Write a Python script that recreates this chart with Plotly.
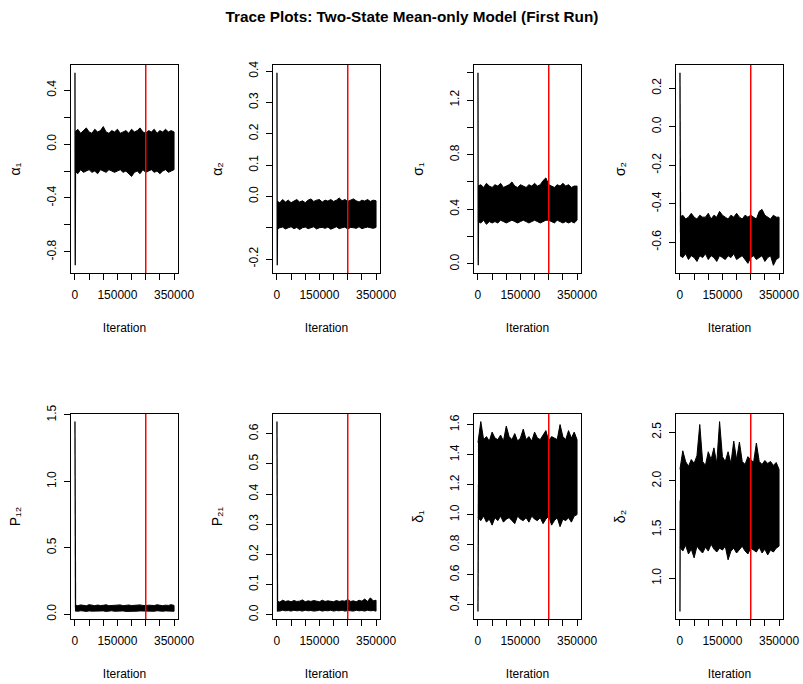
import plotly.graph_objects as go

# ---------------------------------------------------------------------------
# MCMC trace summaries (350,000 iterations per parameter)
# Each chain: a short burn-in path from the start value, followed by the
# stationary band described by its upper / lower envelope every 10,000 iters.
# ---------------------------------------------------------------------------
ITER = list(range(0, 350001, 10000))
BURN_ITER = [0, 1000, 2000]
RED_LINE_ITER = 250000

PARAM_LABELS = ["α₁", "α₂", "σ₁", "σ₂", "P₁₂", "P₂₁", "δ₁", "δ₂"]

alpha1_burn = [0.53, -0.90, -0.05]
alpha1_upper = [0.09, 0.11, 0.08, 0.10, 0.12, 0.09, 0.08, 0.11, 0.09, 0.10, 0.13, 0.09,
                0.08, 0.10, 0.09, 0.11, 0.08, 0.09, 0.10, 0.08, 0.11, 0.09, 0.10, 0.12,
                0.09, 0.08, 0.10, 0.09, 0.11, 0.08, 0.10, 0.09, 0.11, 0.09, 0.10, 0.09]
alpha1_lower = [-0.20, -0.22, -0.19, -0.21, -0.20, -0.19, -0.21, -0.20, -0.22, -0.19, -0.20, -0.21,
                -0.19, -0.20, -0.21, -0.20, -0.19, -0.21, -0.20, -0.22, -0.24, -0.21, -0.20, -0.22,
                -0.19, -0.21, -0.20, -0.19, -0.21, -0.20, -0.22, -0.20, -0.19, -0.21, -0.20, -0.19]

alpha2_burn = [0.395, -0.22, -0.06]
alpha2_upper = [-0.015, -0.020, -0.010, -0.018, -0.012, -0.020, -0.015, -0.010, -0.018, -0.014, -0.020, -0.012,
                -0.008, -0.016, -0.012, -0.010, -0.018, -0.012, -0.015, -0.010, -0.016, -0.012, -0.005, -0.014,
                -0.010, -0.016, -0.012, -0.008, -0.014, -0.018, -0.012, -0.015, -0.010, -0.016, -0.012, -0.014]
alpha2_lower = [-0.105, -0.100, -0.098, -0.104, -0.100, -0.097, -0.103, -0.099, -0.106, -0.100, -0.098, -0.103,
                -0.100, -0.097, -0.104, -0.100, -0.099, -0.102, -0.098, -0.105, -0.100, -0.097, -0.103, -0.100,
                -0.098, -0.104, -0.099, -0.100, -0.102, -0.097, -0.103, -0.100, -0.098, -0.100, -0.102, -0.099]

sigma1_burn = [1.40, -0.01, 0.45]
sigma1_upper = [0.57, 0.58, 0.56, 0.59, 0.57, 0.56, 0.58, 0.57, 0.59, 0.56, 0.57, 0.58,
                0.60, 0.57, 0.56, 0.58, 0.57, 0.56, 0.58, 0.57, 0.59, 0.57, 0.58, 0.61,
                0.63, 0.58, 0.57, 0.56, 0.58, 0.57, 0.59, 0.57, 0.58, 0.56, 0.57, 0.57]
sigma1_lower = [0.31, 0.30, 0.32, 0.29, 0.31, 0.30, 0.31, 0.30, 0.32, 0.31, 0.30, 0.31,
                0.32, 0.31, 0.30, 0.31, 0.32, 0.31, 0.30, 0.31, 0.32, 0.31, 0.30, 0.31,
                0.32, 0.32, 0.31, 0.30, 0.32, 0.31, 0.30, 0.31, 0.30, 0.31, 0.30, 0.32]

sigma2_burn = [0.28, -0.22, -0.55]
sigma2_upper = [-0.47, -0.46, -0.48, -0.47, -0.45, -0.47, -0.48, -0.46, -0.47, -0.47, -0.45, -0.48,
                -0.46, -0.47, -0.44, -0.46, -0.47, -0.48, -0.46, -0.47, -0.45, -0.47, -0.48, -0.46,
                -0.47, -0.46, -0.47, -0.48, -0.44, -0.43, -0.46, -0.47, -0.48, -0.46, -0.47, -0.47]
sigma2_lower = [-0.67, -0.68, -0.66, -0.69, -0.67, -0.68, -0.70, -0.67, -0.68, -0.66, -0.69, -0.67,
                -0.68, -0.70, -0.67, -0.68, -0.69, -0.67, -0.68, -0.66, -0.69, -0.68, -0.67, -0.69,
                -0.71, -0.68, -0.67, -0.69, -0.68, -0.67, -0.70, -0.68, -0.67, -0.72, -0.69, -0.68]

p12_burn = [1.45, 0.17, 0.05]
p12_upper = [0.068, 0.064, 0.070, 0.066, 0.063, 0.072, 0.066, 0.064, 0.069, 0.065, 0.067, 0.071,
             0.064, 0.066, 0.068, 0.065, 0.070, 0.064, 0.066, 0.069, 0.065, 0.067, 0.064, 0.070,
             0.066, 0.064, 0.068, 0.066, 0.065, 0.071, 0.066, 0.064, 0.068, 0.066, 0.072, 0.066]
p12_lower = [0.025, 0.022, 0.026, 0.024, 0.021, 0.025, 0.023, 0.026, 0.022, 0.024, 0.025, 0.021,
             0.023, 0.026, 0.022, 0.024, 0.023, 0.025, 0.021, 0.024, 0.026, 0.022, 0.023, 0.025,
             0.024, 0.021, 0.025, 0.023, 0.022, 0.026, 0.024, 0.022, 0.025, 0.023, 0.024, 0.022]

p21_burn = [0.64, 0.12, 0.011]
p21_upper = [0.045, 0.042, 0.048, 0.044, 0.046, 0.043, 0.047, 0.044, 0.045, 0.049, 0.043, 0.046,
             0.044, 0.047, 0.045, 0.043, 0.048, 0.044, 0.046, 0.045, 0.043, 0.047, 0.044, 0.046,
             0.045, 0.050, 0.044, 0.046, 0.043, 0.048, 0.045, 0.052, 0.044, 0.056, 0.046, 0.048]
p21_lower = [0.013, 0.012, 0.015, 0.013, 0.014, 0.012, 0.015, 0.013, 0.014, 0.012, 0.015, 0.013,
             0.014, 0.012, 0.013, 0.015, 0.012, 0.014, 0.013, 0.015, 0.012, 0.014, 0.013, 0.015,
             0.012, 0.014, 0.013, 0.012, 0.015, 0.013, 0.014, 0.012, 0.015, 0.013, 0.014, 0.012]

delta1_burn = [0.355, 0.92, 1.20]
delta1_upper = [1.48, 1.62, 1.50, 1.52, 1.49, 1.55, 1.51, 1.50, 1.53, 1.49, 1.59, 1.52,
                1.50, 1.54, 1.49, 1.51, 1.57, 1.50, 1.52, 1.49, 1.55, 1.51, 1.50, 1.53,
                1.56, 1.49, 1.52, 1.51, 1.50, 1.60, 1.52, 1.50, 1.56, 1.51, 1.55, 1.50]
delta1_lower = [0.98, 0.96, 0.99, 0.95, 0.97, 0.93, 0.98, 0.96, 0.99, 0.95, 0.97, 0.98,
                0.96, 0.94, 0.99, 0.97, 0.96, 0.98, 0.95, 0.99, 0.97, 0.96, 0.98, 0.94,
                0.97, 0.99, 0.93, 0.96, 0.98, 0.92, 0.97, 0.96, 0.98, 0.95, 0.99, 1.00]

delta2_burn = [0.66, 1.80, 1.50]
delta2_upper = [2.12, 2.31, 2.20, 2.15, 2.22, 2.18, 2.26, 2.58, 2.20, 2.16, 2.30, 2.22,
                2.34, 2.18, 2.61, 2.25, 2.20, 2.30, 2.18, 2.41, 2.22, 2.40, 2.20, 2.17,
                2.25, 2.22, 2.19, 2.39, 2.20, 2.17, 2.21, 2.18, 2.20, 2.16, 2.19, 2.12]
delta2_lower = [1.32, 1.28, 1.34, 1.25, 1.30, 1.21, 1.33, 1.29, 1.26, 1.32, 1.28, 1.35,
                1.30, 1.27, 1.31, 1.29, 1.33, 1.19, 1.28, 1.31, 1.26, 1.30, 1.33, 1.28,
                1.25, 1.31, 1.29, 1.27, 1.32, 1.26, 1.30, 1.24, 1.29, 1.27, 1.31, 1.33]

# labelled y ticks and the extra unlabelled ticks between them
Y_TICKS = [
    [-0.8, -0.4, 0.0, 0.4],
    [-0.2, 0.0, 0.1, 0.2, 0.3, 0.4],
    [0.0, 0.4, 0.8, 1.2],
    [-0.6, -0.4, -0.2, 0.0, 0.2],
    [0.0, 0.5, 1.0, 1.5],
    [0.0, 0.1, 0.2, 0.3, 0.4, 0.5, 0.6],
    [0.4, 0.6, 0.8, 1.0, 1.2, 1.4, 1.6],
    [1.0, 1.5, 2.0, 2.5],
]
Y_MINOR_TICKS = [
    [-0.6, -0.2, 0.2],
    [-0.1],
    [0.2, 0.6, 1.0, 1.4],
    [], [], [], [], [],
]
X_TICKS = [0, 150000, 350000]
X_MINOR_TICKS = [50000, 100000, 200000, 250000, 300000]

CHAINS = [
    (alpha1_burn, alpha1_upper, alpha1_lower),
    (alpha2_burn, alpha2_upper, alpha2_lower),
    (sigma1_burn, sigma1_upper, sigma1_lower),
    (sigma2_burn, sigma2_upper, sigma2_lower),
    (p12_burn, p12_upper, p12_lower),
    (p21_burn, p21_upper, p21_lower),
    (delta1_burn, delta1_upper, delta1_lower),
    (delta2_burn, delta2_upper, delta2_lower),
]

# ---------------------------------------------------------------------------
# Page geometry (pixels) for the 2 x 4 panel grid
# ---------------------------------------------------------------------------
W, H = 803, 684
COL_LEFT = [71, 273, 474, 676]
PANEL_W = 107
ROW_TOP = [65, 414]
ROW_H = [208, 205]

FONT = "Liberation Sans, Arial, Helvetica, sans-serif"


def padded(lo, hi):
    span = hi - lo
    return [lo - 0.04 * span, hi + 0.04 * span]


def fmt(v):
    return f"{v:.1f}".replace("-0.0", "0.0")


fig = go.Figure()
layout = {}
shapes = []

x_range = padded(min(ITER), max(ITER))
tick_style = dict(ticks="outside", ticklen=6, tickwidth=1, tickcolor="black")
axis_font = dict(size=12, color="black", family=FONT)

for k, (burn, upper, lower) in enumerate(CHAINS):
    assert len(upper) == len(ITER) and len(lower) == len(ITER)
    row, col = divmod(k, 4)
    ax = "" if k == 0 else str(k + 1)
    xref, yref = "x" + ax, "y" + ax

    # stationary part of the chain as a solid band
    fig.add_trace(go.Scatter(
        x=ITER + ITER[::-1], y=upper + lower[::-1],
        xaxis=xref, yaxis=yref, mode="lines", fill="toself",
        fillcolor="black", line=dict(color="black", width=1),
        hoverinfo="skip", showlegend=False))
    # burn-in path from the starting value
    fig.add_trace(go.Scatter(
        x=BURN_ITER, y=burn, xaxis=xref, yaxis=yref, mode="lines",
        line=dict(color="black", width=1.3), hoverinfo="skip", showlegend=False))

    all_y = burn + upper + lower
    y_range = padded(min(all_y), max(all_y))

    x0 = COL_LEFT[col] / W
    x1 = (COL_LEFT[col] + PANEL_W) / W
    y1 = 1 - ROW_TOP[row] / H
    y0 = 1 - (ROW_TOP[row] + ROW_H[row]) / H

    layout["xaxis" + ax] = dict(
        domain=[x0, x1], range=x_range, anchor=yref, automargin=False,
        tickmode="array", tickvals=X_TICKS, ticktext=[str(v) for v in X_TICKS],
        minor=dict(tickmode="array", tickvals=X_MINOR_TICKS, showgrid=False, **tick_style),
        showline=True, linecolor="black", linewidth=1, mirror=True,
        showgrid=False, zeroline=False, ticklabelstandoff=5, tickfont=axis_font,
        title=dict(text="Iteration", standoff=22, font=axis_font), **tick_style)
    layout["yaxis" + ax] = dict(
        domain=[y0, y1], range=y_range, anchor=xref, automargin=False,
        tickmode="array", tickvals=Y_TICKS[k], ticktext=[fmt(v) for v in Y_TICKS[k]],
        minor=dict(tickmode="array", tickvals=Y_MINOR_TICKS[k], showgrid=False, **tick_style),
        showline=True, linecolor="black", linewidth=1, mirror=True,
        showgrid=False, zeroline=False, tickangle=-90, ticklabelstandoff=3,
        tickfont=axis_font,
        title=dict(text=PARAM_LABELS[k], standoff=21,
                   font=dict(size=14, color="black", family=FONT)),
        **tick_style)

    # burn-in cut-off marker
    shapes.append(dict(type="line", xref=xref, yref=yref + " domain",
                       x0=RED_LINE_ITER, x1=RED_LINE_ITER, y0=0, y1=1,
                       line=dict(color="#ff0000", width=1.5)))

fig.update_layout(
    width=W, height=H, margin=dict(l=0, r=0, t=0, b=0),
    paper_bgcolor="white", plot_bgcolor="white",
    title=dict(text="<b>Trace Plots: Two-State Mean-only Model (First Run)</b>",
               x=412 / W, xanchor="center", xref="paper",
               y=1 - 17 / H, yanchor="middle", yref="container",
               font=dict(size=15.3, color="black", family=FONT)),
    shapes=shapes, showlegend=False,
    **layout)

fig.write_html("out.html")
